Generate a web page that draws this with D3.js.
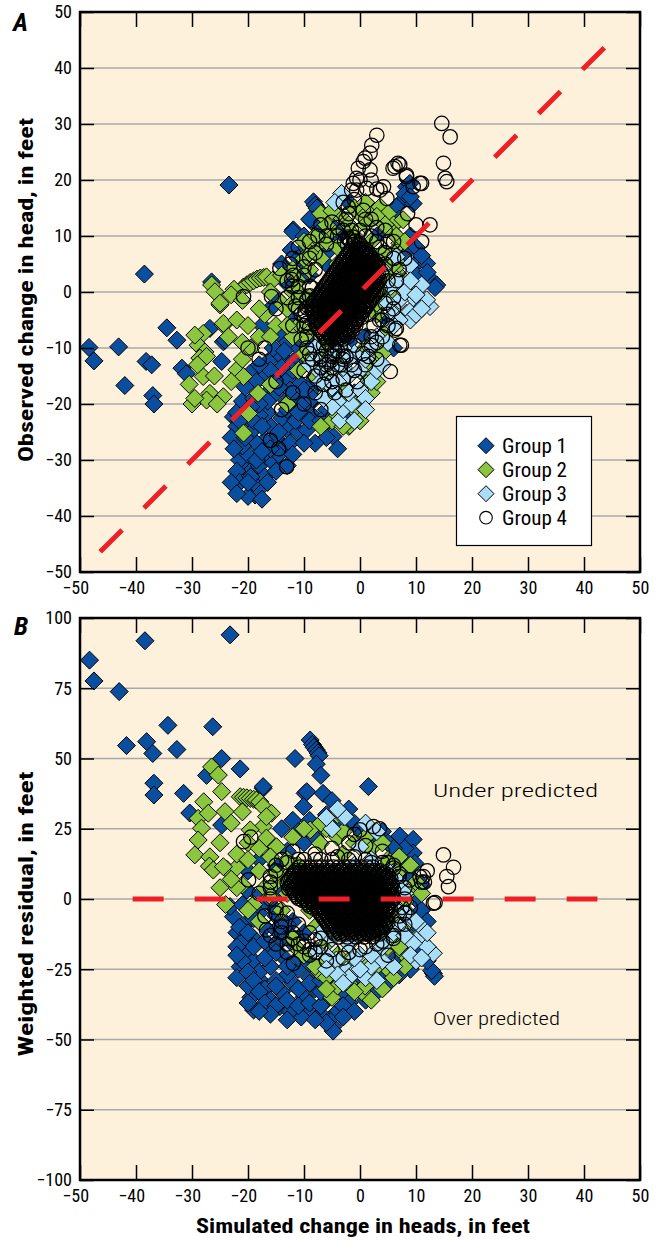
<!DOCTYPE html>
<html><head><meta charset="utf-8">
<script src="https://cdn.jsdelivr.net/npm/d3@7/dist/d3.min.js"></script>
<style>body{margin:0;background:#fff}</style>
</head><body>
<svg id="c" width="660" height="1241"></svg>
<script>
// ---------- ticks / labels ----------
const xTicks=[-50,-40,-30,-20,-10,0,10,20,30,40,50];
const yTicksA=[-50,-40,-30,-20,-10,0,10,20,30,40,50];
const yTicksB=[-100,-75,-50,-25,0,25,50,75,100];
const legendLabels=["Group 1","Group 2","Group 3","Group 4"];
const groupColors=["#0a4f9f","#8cc63f","#a9def8","none"];
const refLineA=[[-46.4,-46.4],[44.4,44.4]];
const refLineB=[[-40.6,0],[42.4,0]];

// ---------- Panel A: simulated vs observed ----------
const g1A=[[-23.4,19.1],[-38.5,3.2],[-48.4,-9.9],[-47.5,-12.3],[-43.1,-9.8],[-34.5,-6.4],[-32.7,-8.6],[-38.2,-12.4],[-37.2,-13],[-42,-16.7],[-37,-18.5],[-36.8,-20],[-31.8,-13.6],[-31,-14.6],[-26.5,1.8],[-26.8,-6.5],[-24.4,-8.9],[-24.7,-12.4],[-24.1,-8.6],[-22.6,-22.3],[-22,-21.5],[-19.6,-14.5],
[-8.3,16.1],[-8,15.5],[-7.7,15],[-8.6,12.6],[-11.9,11.1],[-7.1,11.1],[-3.6,10.2],[-10.1,7.5],[-12.3,7.5],[-14,5],[-13,1.5],[-15,-1],[-11,4],[-9,3],[-1.8,15.8],[-5,9],[-6,5],[-16,-3],[-17.5,-6],[-14,-8],[-12,-5],[-12,10.8],[-8.3,12.9],[-6,7],[-4,12],[-10,10],[-9,13],[-11,6],
[8.3,18.8],[7.7,16.4],[6.5,15.2],[9.5,15.8],[8.9,19.4],[8,17.5],[9,17],[10.7,5.7],[11.9,5.1],[13.1,1.8],[13.7,1.25],[13.4,0.8],[10,3],[9,8],[7.5,6],[5,-5],[6,-10],[4,-2],[2,4],[3,10],[1,-8],[9,10],[10,8],[11,6.5],[12,3.5],[7,13],
[-18.75,-36.25],[-18.2,-35.4],[-19,-34],[-20.8,-31.2],[-19.6,-32.1],[-21.5,-30],[-20,-29],[-18,-31],[-17,-33],[-16.7,-29.4],[-15.5,-30.5],[-13.7,-27.6],[-14.5,-29],[-15,-26],[-17,-26.5],[-18.5,-27],[-19.5,-25],[-21,-27.5],[-22,-32],[-16,-24],[-13,-24.5],[-11,-25],[-9.5,-24.6],[-10,-22],[-12,-22],[-14,-22.5],[-16.5,-21.5],[-18,-22],[-20,-22.5],[-21,-19.5],[-19,-19],[-17,-18.5],[-15,-18],[-13,-19.5],[-11,-19],[-9,-20],[-8,-22.5],[-6.5,-24],[-4.8,-25.8],[-6,-21],[-7,-18],[-9,-16.5],[-11,-16],[-13,-15.5],[-15,-14.5],[-17,-15],[-18.5,-16],[-16,-12],[-14,-11.5],[-12,-12.5],[-10,-13],[-8,-14],[-6,-15],[-4,-17],[-3,-20],[-2,-22],[-5,-19],[-11,-10],[-13,-9],[-9,-9],[-7,-11],[-20.5,-17],[-22,-24],[-23,-26],[-21.5,-34],[-20,-36.5],[-17.5,-37],[-19.5,-33],[-13,-31],[-1,-18],[1,-15],[0,-12],[-2,-9],
[-23,-34],[-22.5,-28],[-20.5,-26],[-19,-23],[-17.5,-24],[-16,-28],[-14.5,-25],[-12.5,-27],[-11.5,-23],[-10.5,-20],[-8.5,-19],[-7.5,-16],[-12.5,-17.5],[-14.5,-17],[-16.5,-19.5],[-18,-20],[-19.5,-20.5],[-21.5,-23],[-15,-32],[-16.5,-34],[-18.5,-30],[-17.5,-28.5],[-13,-21],[-11,-21.5],[-9,-23],[-7,-23],[-10,-17.5],[-12,-14],[-14,-13.5],[-16,-14],[-18,-13],[-15.5,-10],[-13.5,-10.5],[-6,-26],[-4,-28],[-8,-27],[-10,-27],[-12,-29],[-20,-34],[-22,-36]];

const g2A=[[-26.5,1.25],[-25.9,0.05],[-25,-2.3],[-24.4,-5.9],[-20.8,0.9],[-20.2,1.3],[-19.6,1.7],[-19,2],[-18.4,2.3],[-17.8,2.5],[-17.2,2.6],[-16.7,2.7],[-15.5,2.2],[-22.5,0.5],[-23,-0.5],[-21,-1.5],[-28,-7.4],[-28.9,-9.5],[-27.7,-10.7],[-28.6,-11.8],[-25,-2],[-24.4,-5.6],[-27.4,-11.5],[-28,-15.1],[-26.8,-18.1],[-27.4,-19.3],[-24.4,-18.7],[-22,-13.9],[-20.8,-15.1],[-19.9,-21.7],[-20.8,-25.2],[-18.2,-18.1],[-30,-20],[-29.5,-19],[-25.5,-20],[-23,-16],[-21,-12],[-19.5,-10],[-22,-5],[-23.5,-8],[-29,-13],[-26,-15],[-18,-8],[-17,-4],[-15,-6],[-14,-2],[-16,0],[-12,0],[-13,-3],[-10,-2],[-21,-9],[-29.5,-7.7],[-30.5,-16.5],
[-8,8],[-7,6],[-6,9],[-5,11],[-3,13],[-2,12],[0,14],[1,12],[2,15],[3.6,15.2],[4,13],[5,14],[6,12],[7.7,12.9],[5.7,10.8],[7.1,8.7],[6,7],[5,5],[7,3],[8.9,0.9],[6,0],[4.8,-6.8],[4,-9],[3,-11],[2.4,-13.3],[1.2,-16.3],[0,-18],[-1,-21],[-2,-24],[-3,-17],[-5,-14],[-7,-10],[-9,-7],[-11,-6],[-10,-8],[-8,-3],[-6,-9],[-4,-12],[-5,-23],[-7,-24],[2,-9],[3,-4],[4,2],[3,6],[2,9],[-1,10],[-4,5],[-9,4],[-11,2],[-7,0],[-1.8,-23.8],[-13,-20],[-16,-16.5],
[-10,6],[-9,7],[-8,10],[-6,12],[-4,14],[-1,15],[1,16],[3,13.5],[4.5,12],[6.5,10],[8,9],[7,5],[8,2],[5,3],[4,0],[3,-2],[5,-7],[4,-11],[2,-14],[1,-10],[0,-20],[-2,-19],[-4,-22],[-6,-18],[-8,-15],[-10,-11],[-12,-8],[-11,-14],[-9,-12],[-13,-6],[-12,4],[-10,9],[-11,0],[-6,-13],[-3,-24],[0,-23],[-7,14],[-5,14.5],[-4,8],[-9,-1],[-12,-2],[4,7],[6,5],[2,-18],[3,-16],[-14,3],[-16,-8],[-18,-3],[-20,-6]];

const g3A=[[-3.3,17.6],[-4.5,16],[10.1,-2.6],[12.5,-2.6],[8.3,-3.8],[11,1.25],[11.9,-1.4],[10.4,-2.6],[8.9,-3.5],[6.5,6.3],[8.9,4.8],[9.5,-1],[7,-1.5],[5.5,1],[4,4],[-3.6,-22.9],[-3,-21],[-1.5,-20],[-2,-18],[0,-17.5],[1,-19],[-4,-19.5],[-5,-17],[-6,-16],[-7.5,-14],[-8,-12],[-6,-12.5],[-4,-14],[-2,-15],[0,-14],[1,-12],[-1,-11],[-3,-10],[2,-16],[3,-14],[-5,-20.5],[6,-4],[5,-2],[7,2],[-1,5],[-2,7],[0,3],[-3,-13.5],[-6.5,-19],
[9,-5],[10,-4],[11,-3],[7,-5],[8,0],[9,2],[10,-0.5],[-8,-10],[-9,-13],[-7,-16],[-4,-16],[-2,-12],[2,-10],[-5,-11],[-1,-23],[1,-21],[4,-13],[3,-8],[5,-9],[6,-6]];

const g4A=[[3,28],[2.1,26.2],[1.8,24.8],[0.9,23.9],[0.6,23.3],[-0.3,22.1],[1.8,21.8],[-0.6,20.3],[-1.2,19.4],[-1.5,18.2],[-0.6,18.2],[-2.1,15.2],[1.2,18.5],[3.6,18.2],[4.2,18.8],[3,18.4],[6.8,23],[5.9,22.1],[8.3,20.6],[10.7,19.4],[9.5,18.8],[0.6,14.6],[4.8,16.7],[14.6,30.1],[16.1,27.7],[14.9,23],[15.2,20.3],[15.5,19.7],[6.25,22.4],[7.1,22.7],[8.3,20.9],[11,19.4],[12.5,12],[6.25,-6.8],[7.4,-9.5],[5.4,-14.2],[7.1,-9.5],[6.5,-6.5],[-14.3,4.2],[-11.9,3],[-12.2,2.2],[-15.8,-0.8],[-20.8,-0.8],[-13.1,-31.2],[-14.5,-28],[-16,-26.5],[-3,16],[-1,16.5],[0,20],[2,20],[-2.5,13],[-1.5,11],[1,10],[-4,11.5],[-6,10],[-7,12],[-9,9],[-12,6],[-13,-1],[-15,-3],[-17,-10],[-20,-10],[-18,-12],[-15,-16],[-12,-18],[-14,-21],[-8,-18],[-10,-20],[-7,-21],[-5,-16],[-3,-15.5],[-1,-14],[1,-13],[3,-12],[4,-8],[5,-4],[6,-1],[7,4],[8,6],[6,9],[4.5,11],[3,9],[2,13],[8.5,14],[10,12],[11,9],[-1,9],[0,8.5],[-2,9.5],[1,7],[3,5],[4,-5],[2,-8],[-10,-6],[-11,-3],[-9,1],[-8,4],
[-9.5,-10],[-8.5,-12],[-7,-13.5],[-5.5,-12.5],[-4,-10.5],[-2.5,-11.5],[-1,-9.5],[0.5,-8],[-6,-14.5],[-3.5,-13],[1.5,-4],[2.5,-6],[4,3],[4.5,7],[-10,3],[-11,-1],[-12,1],[-9,6],
[-9.5,-8],[-10.5,-4],[-11,1],[-10,4.5],[-8,7],[-6,8.5],[-4,10],[-3,11],[0,11],[2,10],[3.5,8],[4.5,5],[5,2],[4.5,-2],[3.5,-5],[2,-9.5],[0.5,-11],[-1.5,-13],[-3,-12],[-5,-13.5],[-7,-12],[-9,-11],[-10.5,-8.5],[-12,-6],[-11.5,-2.5],[-13,2],[-12.5,5],[-11,8],[-7.5,10],[-5,12.5],[-2,14],[1,13],[3,11.5],[5,9],[6,6],[6.5,2],[6,-3],[5,-6],[3,-9],[1.5,-11.5],[-0.5,-16],[-2.5,-17.5],[-4.5,-18],[-6.5,-16.5],[-8,-15],[-10,-14],
[-9.5,-1.4],[-9.5,-2.8],[-10,-4.2],[-9.5,-5.6],[-9,-6.3],[-9,-0.7],[3.5,2.1],[3.8,3.5],[-8.5,0.7],[-9.8,-3.5],[3.6,0.5],[3.2,5.5]];

// dense core of Group 4 (rows: [observed, [simulated...]])
const g4ACore=[
[7.7,[-1.5,-0.5,0.5]],
[7.0,[-2,-1,0,1]],
[6.3,[-2.5,-1.5,-0.5,0.5,1.5]],
[5.6,[-3,-2,-1,0,1,2]],
[4.9,[-3.5,-2.5,-1.5,-0.5,0.5,1.5,2.5]],
[4.2,[-4,-3,-2,-1,0,1,2,3]],
[3.5,[-4.5,-3.5,-2.5,-1.5,-0.5,0.5,1.5,2.5]],
[2.8,[-5,-4,-3,-2,-1,0,1,2,3]],
[2.1,[-5.5,-4.5,-3.5,-2.5,-1.5,-0.5,0.5,1.5,2.5]],
[1.4,[-6,-5,-4,-3,-2,-1,0,1,2,3]],
[0.7,[-6.5,-5.5,-4.5,-3.5,-2.5,-1.5,-0.5,0.5,1.5,2.5]],
[0,[-7,-6,-5,-4,-3,-2,-1,0,1,2,3]],
[-0.7,[-7.5,-6.5,-5.5,-4.5,-3.5,-2.5,-1.5,-0.5,0.5,1.5,2.5]],
[-1.4,[-8,-7,-6,-5,-4,-3,-2,-1,0,1,2]],
[-2.1,[-8.5,-7.5,-6.5,-5.5,-4.5,-3.5,-2.5,-1.5,-0.5,0.5,1.5]],
[-2.8,[-8,-7,-6,-5,-4,-3,-2,-1,0,1]],
[-3.5,[-8.5,-7.5,-6.5,-5.5,-4.5,-3.5,-2.5,-1.5,-0.5,0.5]],
[-4.2,[-8,-7,-6,-5,-4,-3,-2,-1,0]],
[-4.9,[-7.5,-6.5,-5.5,-4.5,-3.5,-2.5,-1.5,-0.5]],
[-5.6,[-8,-7,-6,-5,-4,-3,-2,-1]],
[-6.3,[-7.5,-6.5,-5.5,-4.5,-3.5,-2.5,-1.5]],
[-7.0,[-7,-6,-5,-4,-3,-2]],
[-7.7,[-6.5,-5.5,-4.5,-3.5,-2.5]],
[-8.4,[-6,-5,-4,-3]],
[-9.5,[-6.5,-5,-3.5]],
[-10.5,[-6,-4.5]],
[-11.5,[-7,-5,-3]],
[-13,[-6,-4]]];
const g4ACoreMid=[
[9.8,[-2.25,-1.25]],
[9.1,[-2.75,-1.75,-0.75]],
[8.4,[-2.25,-1.25,-0.25]],
[7.35,[-1.75,-0.75,0.25,1.25]],
[6.65,[-2.25,-1.25,-0.25,0.75,1.75]],
[5.95,[-2.75,-1.75,-0.75,0.25,1.25,2.25]],
[5.25,[-3.25,-2.25,-1.25,-0.25,0.75,1.75,2.75]],
[4.55,[-3.75,-2.75,-1.75,-0.75,0.25,1.25,2.25,3.25]],
[3.85,[-4.25,-3.25,-2.25,-1.25,-0.25,0.75,1.75,2.75]],
[3.15,[-4.75,-3.75,-2.75,-1.75,-0.75,0.25,1.25,2.25,3.25]],
[2.45,[-5.25,-4.25,-3.25,-2.25,-1.25,-0.25,0.75,1.75,2.75]],
[1.75,[-5.75,-4.75,-3.75,-2.75,-1.75,-0.75,0.25,1.25,2.25,3.25]],
[1.05,[-6.25,-5.25,-4.25,-3.25,-2.25,-1.25,-0.25,0.75,1.75,2.75]],
[0.35,[-6.75,-5.75,-4.75,-3.75,-2.75,-1.75,-0.75,0.25,1.25,2.25,3.25]],
[-0.35,[-7.25,-6.25,-5.25,-4.25,-3.25,-2.25,-1.25,-0.25,0.75,1.75,2.75]],
[-1.05,[-7.75,-6.75,-5.75,-4.75,-3.75,-2.75,-1.75,-0.75,0.25,1.25,2.25]],
[-1.75,[-8.25,-7.25,-6.25,-5.25,-4.25,-3.25,-2.25,-1.25,-0.25,0.75,1.75]],
[-2.45,[-8.25,-7.25,-6.25,-5.25,-4.25,-3.25,-2.25,-1.25,-0.25,0.75,1.25]],
[-3.15,[-8.25,-7.25,-6.25,-5.25,-4.25,-3.25,-2.25,-1.25,-0.25,0.75]],
[-3.85,[-8.25,-7.25,-6.25,-5.25,-4.25,-3.25,-2.25,-1.25,-0.25]],
[-4.55,[-7.75,-6.75,-5.75,-4.75,-3.75,-2.75,-1.75,-0.75,0.25]],
[-5.25,[-7.75,-6.75,-5.75,-4.75,-3.75,-2.75,-1.75,-0.75]],
[-5.95,[-7.75,-6.75,-5.75,-4.75,-3.75,-2.75,-1.75,-0.75]],
[-6.65,[-7.25,-6.25,-5.25,-4.25,-3.25,-2.25,-1.25]],
[-7.35,[-6.75,-5.75,-4.75,-3.75,-2.75]],
[-8.05,[-6.25,-5.25,-4.25,-3.25,-2.25]],
[-9,[-5.75,-4.25]]];

// ---------- Panel B: simulated vs weighted residual ----------
const g1B=[[-38.4,91.9],[-23.2,94],[-48.3,85],[-47.5,77.6],[-43,73.8],[-34.3,61.8],[-26.3,61.3],[-41.7,54.6],[-38.1,56],[-37,51.8],[-32.7,53.2],[-24.7,50],[-21.4,46.3],[-11.6,50],[-36.8,41.2],[-36.8,37],[-31.5,37.6],[-17.3,39.4],[-8.9,56.6],[-8.5,55],[-8.2,54],[-7.8,53],[-7.5,52],[-7.3,51],[-7.8,48],[-7,44],[-9.8,37.6],[-10.1,32.9],[-24.7,26.3],[-30.4,30.6],[-27.4,44],
[-17.3,40],[1.5,40],[-9.5,38.2],[-6.6,37.6],[-12,28],[-14,25],[-6,30],[-3,27],[0,25],[2,22],[4,24],[7.1,22.4],[9.5,21.2],[9.5,16.4],[9.8,12.7],[8,18],[6,15],[-16,20],[-18,14],[-20,10],[-15,12],[-13,17],[-10,20],[-8,22],[5,20],[6,18],[3,22],[-1,27],[-4,28],[-7,26],[-9,28],[-11,24],[-5,35],[-2,32],
[-19,-39.5],[-14.3,-38.3],[-4.8,-45.4],[-4.8,-47],[-8.9,-39.5],[-17.9,-28.8],[-21.4,-24.1],[-20.8,-19.4],[-22.6,-6.3],[-23.2,-2.7],[-20.2,3.2],[-22,-12],[-21,-15],[-19,-14],[-17,-10],[-15,-6],[-18,-5],[-20,-8],[-19,-22],[-18,-26],[-16,-24],[-14,-20],[-12,-16],[-10,-12],[-13,-12],[-16,-17],[-17,-32],[-19.5,-35],[-16,-36],[-14,-33],[-12,-30],[-10,-35],[-8,-32],[-6,-36],[-4,-40],[-5.5,-43],[-7,-41],[-10.5,-42],[-12.5,-40],[-9,-28],[-11,-25],[-13,-27],[-15,-29],[-7,-26],[-5,-30],[-3,-34],[-2,-37],[-1,-30],[-14,-14],[-12,-8],[-16,-2],[-18,1],[-14,3],[-20,-31],[-22,-28],[-21.5,-10],
[-21,-22],[-20,-26],[-19,-29],[-18,-33],[-17,-37],[-15,-38],[-13,-36],[-11,-38],[-9,-37],[-7,-38],[-6,-44],[-8,-43],[-13,-43],[-11,-32],[-9,-30],[-7,-33],[-5,-33],[-3,-38],[-15,-31],[-13,-24],[-11,-21],[-9,-23],[-7,-29],[-17,-21],[-15,-19],[-19,-17],[-17,-15],[-15,-11],[-13,-9],[-20,-12],[-22,-17],[-21,-2],[-19,-7],[-17,-1],[-22,-20],[-16,-41],[-18,-40],[-20,-37],
[13.1,-26.5],[13.3,-27.5],[12.8,-25.5],[10,-20],[8,-15],[9,-10],[6,-22],[4,-27],[2,-31],[0,-28],[11,5],[10,0],[8,8],[8,12],[9,8],[10,4],[11,-4],[12,-8],[11,-15],[10,-18],[12,-22],[9,-25],[7,-27],[5,-30],[3,-33],[1,-36],[-1,-40],[-3,-42]];

const g2B=[[-26.5,47],[-25.3,44.1],[-24.7,38.2],[-27.9,34.6],[-28.9,28.7],[-27.1,30.5],[-24.1,31.1],[-28.3,25.2],[-28.9,21],[-29.5,15.7],[-26.8,15],[-26.9,11.7],[-21.4,36.4],[-20.8,36.2],[-20.2,36],[-19.6,35.8],[-19,35.5],[-18.5,35.2],[-17.9,34.6],[-17.3,32.9],[-15.8,30.5],[-17.3,25.8],[-16.7,21.7],[-23.8,10.6],[-22,11.2],[-26.2,10.3],[-24.4,11.5],[-19.6,24.6],[-16.7,29.3],[-8.9,24.6],[-7.1,19.8],[-14.9,18.6],[-20,20],[-22,16],[-18,10],[-25,20],[-23,27],[-21,31],[-13,8],[-11,12],[-10,5],
[0.6,-33.5],[0.9,-31],[-7.1,-24.1],[-7.3,-26],[3.6,-21.7],[7.7,-19.3],[8.5,-21],[5,-25],[2,-27],[-2,-30],[-4,-20],[-6,-16],[-8,-10],[-9,-4],[-10,0],[4,-12],[6,-8],[8,-4],[9,3],[7,10],[5,14],[2,18],[-1,20],[-4,22],[-6,25],[-3,16],[3,8],[6,0],[-11,-18],[-5,-35],[-3,-26],[1,-24],[5,-17],[7,-12],[-13,2],[-15,6],[-17,4],[-19,-2],[-21,5],[-22,4],[-20,-4],[-18,-8],
[-12,22],[-10,25],[-7,27],[-4,30],[-13,14],[-15,9],[-16,1],[-14,-4],[-12,-14],[-10,-20],[-8,-24],[-6,-28],[-4,-31],[-1,-33],[2,-36],[4,-32],[6,-28],[8,-24],[10,-14],[9,-8],[7,-17],[3,-24],[-2,-22],[7,15],[9,12],[4,20],[1,22],[-3,24],[-16,15],[-18,18],[-20,14],[-23,7],[-25,4],[-24,-2],[10,6],[8,-1],[11,2],[-6,-32]];

const g3B=[[-3,29.3],[-2.7,29.3],[0,18.6],[8.3,-5.1],[9,-7],[10.7,-13.4],[13.1,-19.3],[12,-17],[-4.2,-21.7],[-2.4,-25.3],[-1.2,-26.5],[9.5,-15.8],[11,-10],[7,-10],[5,-14],[3,-18],[0,-20],[-2,-16],[-5,-14],[-7,-12],[1,-12],[4,-6],[6,-2],[8,2],[7,6],[5,10],[2,14],[-1,12],[3,24],[-5,25],[1,-28],[-6,-20],[10,-22],[-3,-8],[-8,-18],
[6,-24],[4,-22],[2,-24],[0,-25],[-2,-28],[-4,-27],[-6,-25],[9,-20],[11,-21],[12,-12],[10,-8],[6,-12],[-1,-21],[2,-20],[4,-17],[1,27],[-4,32],[-6,29],[8,-13],[-3,-30],[3,-29]];

const g4B=[[14.9,15.7],[16.7,11.3],[15.5,8],[15.8,4.4],[13.4,-1.3],[11.3,8],[11.5,6],[12,10],[-20.8,20.4],[-19.5,22],[-19.9,6.8],[-16.7,-11],[-16,-13],[-11.9,-22.9],[2.4,25.8],[3.5,25],[0,24.6],[-1,23],[8.9,6.8],[10.7,7.9],[11,6],[13.1,-1.5],[9,-3],[-14,14],[-12,17],[-10,14],[-8,16],[-5,18],[-2,20],[1,19],[4,17],[6,12],[-15,-16],[-13,-19],[-9,-20],[-6,-22],[-3,-21],[0,-18],[3,-16],[5,-20],[-18,2],[-16,8],[-14,-8],[-12,-12],[-10,-15],[-7,-17],[7,-6],[8,-9],[6,-14],[-15,-3],
[-13,-5],[-11,-9],[-9,-12],[-8,-14.5],[-15,12],[-7,14],[-4,15],[-1,15],[2,13],[5,13],[7,9],[7.5,-3],[-16,4],[-17,-6],
[-15,10],[-16,6],[-16,0],[-15,-5],[-14,-10],[-12,-14],[-10,-17],[-8,-19],[-5,-18],[-2,-19],[1,-17],[4,-15],[6,-13],[7,-9],[8,-5],[8,0],[8,4],[7,8],[6,11],[4,13],[1,14],[-2,14],[-5,14],[-8,14],[-11,14],[-13,13],[-14,-12],[-11,-16],[-7,-14],[-13,-16],[-9,-18]];

// dense core of Group 4 (rows: [residual, [simulated...]])
const g4BCore=[
[10,[-11.5,-10.5,-9.5,-8.5,-7.5,-6.5,-5.5,-4.5,-3.5,-2.5,-1.5,-0.5,0.5,1.5,2.5,3.5]],
[8.6,[-12,-11,-10,-9,-8,-7,-6,-5,-4,-3,-2,-1,0,1,2,3,4,5]],
[7.2,[-12.5,-11.5,-10.5,-9.5,-8.5,-7.5,-6.5,-5.5,-4.5,-3.5,-2.5,-1.5,-0.5,0.5,1.5,2.5,3.5,4.5,5.5]],
[5.8,[-13,-12,-11,-10,-9,-8,-7,-6,-5,-4,-3,-2,-1,0,1,2,3,4,5]],
[4.4,[-12.5,-11.5,-10.5,-9.5,-8.5,-7.5,-6.5,-5.5,-4.5,-3.5,-2.5,-1.5,-0.5,0.5,1.5,2.5,3.5,4.5,5.5]],
[3,[-12,-11,-10,-9,-8,-7,-6,-5,-4,-3,-2,-1,0,1,2,3,4,5,6]],
[1.6,[-11.5,-10.5,-9.5,-8.5,-7.5,-6.5,-5.5,-4.5,-3.5,-2.5,-1.5,-0.5,0.5,1.5,2.5,3.5,4.5,5.5]],
[0.2,[-11,-10,-9,-8,-7,-6,-5,-4,-3,-2,-1,0,1,2,3,4,5,6]],
[-1.2,[-9.5,-8.5,-7.5,-6.5,-5.5,-4.5,-3.5,-2.5,-1.5,-0.5,0.5,1.5,2.5,3.5,4.5,5.5]],
[-2.6,[-9,-8,-7,-6,-5,-4,-3,-2,-1,0,1,2,3,4,5]],
[-4,[-7.5,-6.5,-5.5,-4.5,-3.5,-2.5,-1.5,-0.5,0.5,1.5,2.5,3.5,4.5,5.5]],
[-5.4,[-7,-6,-5,-4,-3,-2,-1,0,1,2,3,4,5]],
[-6.8,[-6.5,-5.5,-4.5,-3.5,-2.5,-1.5,-0.5,0.5,1.5,2.5,3.5,4.5]],
[-8.2,[-6,-5,-4,-3,-2,-1,0,1,2,3,4,5]],
[-9.6,[-5.5,-4.5,-3.5,-2.5,-1.5,-0.5,0.5,1.5,2.5,3.5,4.5]],
[-11,[-5,-4,-3,-2,-1,0,1,2,3,4]],
[-12.4,[-4.5,-3.5,-2.5,-1.5,-0.5,0.5,1.5,2.5,3.5]]];
const g4BCoreMid=[
[11.4,[-10.75,-9.75,-8.75,-7.75,-6.75,-5.75,-4.75,-3.75,-2.75,-1.75,-0.75,0.25,1.25,2.25]],
[9.3,[-11.75,-10.75,-9.75,-8.75,-7.75,-6.75,-5.75,-4.75,-3.75,-2.75,-1.75,-0.75,0.25,1.25,2.25,3.25,4.25]],
[7.9,[-12.25,-11.25,-10.25,-9.25,-8.25,-7.25,-6.25,-5.25,-4.25,-3.25,-2.25,-1.25,-0.25,0.75,1.75,2.75,3.75,4.75]],
[6.5,[-12.75,-11.75,-10.75,-9.75,-8.75,-7.75,-6.75,-5.75,-4.75,-3.75,-2.75,-1.75,-0.75,0.25,1.25,2.25,3.25,4.25,5.25]],
[5.1,[-12.25,-11.25,-10.25,-9.25,-8.25,-7.25,-6.25,-5.25,-4.25,-3.25,-2.25,-1.25,-0.25,0.75,1.75,2.75,3.75,4.75,5.75]],
[3.7,[-12.75,-11.75,-10.75,-9.75,-8.75,-7.75,-6.75,-5.75,-4.75,-3.75,-2.75,-1.75,-0.75,0.25,1.25,2.25,3.25,4.25,5.25]],
[2.3,[-11.75,-10.75,-9.75,-8.75,-7.75,-6.75,-5.75,-4.75,-3.75,-2.75,-1.75,-0.75,0.25,1.25,2.25,3.25,4.25,5.25]],
[0.9,[-11.25,-10.25,-9.25,-8.25,-7.25,-6.25,-5.25,-4.25,-3.25,-2.25,-1.25,-0.25,0.75,1.75,2.75,3.75,4.75,5.75]],
[-0.5,[-10.25,-9.25,-8.25,-7.25,-6.25,-5.25,-4.25,-3.25,-2.25,-1.25,-0.25,0.75,1.75,2.75,3.75,4.75,5.75]],
[-1.9,[-9.25,-8.25,-7.25,-6.25,-5.25,-4.25,-3.25,-2.25,-1.25,-0.25,0.75,1.75,2.75,3.75,4.75]],
[-3.3,[-8.25,-7.25,-6.25,-5.25,-4.25,-3.25,-2.25,-1.25,-0.25,0.75,1.75,2.75,3.75,4.75]],
[-4.7,[-7.25,-6.25,-5.25,-4.25,-3.25,-2.25,-1.25,-0.25,0.75,1.75,2.75,3.75,4.75]],
[-6.1,[-6.75,-5.75,-4.75,-3.75,-2.75,-1.75,-0.75,0.25,1.25,2.25,3.25,4.25]],
[-7.5,[-6.25,-5.25,-4.25,-3.25,-2.25,-1.25,-0.25,0.75,1.75,2.75,3.75,4.75]],
[-8.9,[-5.75,-4.75,-3.75,-2.75,-1.75,-0.75,0.25,1.25,2.25,3.25,4.25]],
[-10.3,[-5.25,-4.25,-3.25,-2.25,-1.25,-0.25,0.75,1.75,2.75,3.75]],
[-11.7,[-4.75,-3.75,-2.75,-1.75,-0.75,0.25,1.25,2.25,3.25]],
[-13.5,[-3.75,-2.25,-0.75,0.75,2.25]]];

// ---------- drawing ----------
const FONT="'Liberation Sans Narrow','Arial Narrow','Roboto Condensed','Liberation Sans',sans-serif";
const svg=d3.select("#c");
const L=80,R=640;
const x=d3.scaleLinear([-50,50],[L,R]);
const yA=d3.scaleLinear([-50,50],[572,12]);
const yB=d3.scaleLinear([-100,100],[1180,618]);
const fmt=v=>v<0?"\u2212"+Math.abs(v):String(v);
const diamond=s=>`M0,${-s}L${s},0L0,${s}L${-s},0Z`;
const expand=rows=>rows.flatMap(([yv,xs])=>xs.map(xv=>[xv,yv]));

function panel(id,y,yTicks,groups,cores,ref){
  const [y0,y1]=y.range();
  const top=y1,bot=y0;
  const g=svg.append("g");
  g.append("rect").attr("x",L).attr("y",top).attr("width",R-L).attr("height",bot-top).attr("fill","#fdf1db");
  g.append("g").selectAll("line").data(yTicks.slice(1,-1)).join("line")
    .attr("x1",L).attr("x2",R).attr("y1",d=>y(d)).attr("y2",d=>y(d))
    .attr("stroke","#a9a9a9").attr("stroke-width",1.5);
  const clip=svg.append("clipPath").attr("id","clip"+id);
  clip.append("rect").attr("x",L).attr("y",top).attr("width",R-L).attr("height",bot-top);
  const pts=g.append("g").attr("clip-path",`url(#clip${id})`);
  groups.slice(0,3).forEach((arr,i)=>{
    pts.append("g").selectAll("path").data(arr).join("path")
      .attr("d",diamond(9)).attr("transform",d=>`translate(${x(d[0])},${y(d[1])})`)
      .attr("fill",groupColors[i]).attr("stroke","#000").attr("stroke-width",1);
  });
  const circ=groups[3].concat(...cores.map(expand));
  pts.append("g").selectAll("circle").data(circ).join("circle")
    .attr("cx",d=>x(d[0])).attr("cy",d=>y(d[1])).attr("r",7.2)
    .attr("fill","none").attr("stroke","#000").attr("stroke-width",1.25);
  pts.append("line").attr("x1",x(ref[0][0])).attr("y1",y(ref[0][1]))
    .attr("x2",x(ref[1][0])).attr("y2",y(ref[1][1]))
    .attr("stroke","#ee2027").attr("stroke-width",5).attr("stroke-dasharray","31,31");
  const ax=g.append("g").attr("font-family",FONT);
  ax.append("g").attr("transform",`translate(${L},0)`)
    .call(d3.axisLeft(y).tickValues(yTicks).tickSizeInner(-14).tickSizeOuter(0).tickPadding(8).tickFormat(fmt));
  ax.append("g").attr("transform",`translate(${R},0)`)
    .call(d3.axisRight(y).tickValues(yTicks).tickSizeInner(-14).tickSizeOuter(0).tickFormat(""));
  const bottom=ax.append("g").attr("transform",`translate(0,${bot})`)
    .call(d3.axisBottom(x).tickValues(xTicks).tickSizeInner(-15).tickSizeOuter(0).tickPadding(9).tickFormat(fmt));
  ax.append("g").attr("transform",`translate(0,${top})`)
    .call(d3.axisTop(x).tickValues(xTicks).tickSizeInner(-15).tickSizeOuter(0).tickFormat(""));
  ax.selectAll(".domain").remove();
  ax.selectAll(".tick line").attr("stroke","#000").attr("stroke-width",1.5);
  ax.selectAll("text").attr("font-size",18).attr("fill","#000").attr("font-family",FONT);
  bottom.selectAll("text").attr("dx",d=>d<0?"-0.27em":0);
  g.append("rect").attr("x",L).attr("y",top).attr("width",R-L).attr("height",bot-top)
    .attr("fill","none").attr("stroke","#000").attr("stroke-width",2.5);
}

panel("A",yA,yTicksA,[g1A,g2A,g3A,g4A],[g4ACore,g4ACoreMid],refLineA);
panel("B",yB,yTicksB,[g1B,g2B,g3B,g4B],[g4BCore,g4BCoreMid],refLineB);

// legend
const lg=svg.append("g");
lg.append("rect").attr("x",456.5).attr("y",416.5).attr("width",135).attr("height",129)
  .attr("fill","#fff").attr("stroke","#000").attr("stroke-width",1.2);
legendLabels.forEach((lab,i)=>{
  const cy=445.7+i*24;
  if(i<3) lg.append("path").attr("d",diamond(8)).attr("transform",`translate(486,${cy})`)
    .attr("fill",groupColors[i]).attr("stroke","#000").attr("stroke-width",1);
  else lg.append("circle").attr("cx",486).attr("cy",cy).attr("r",6.3).attr("fill","#fff").attr("stroke","#000").attr("stroke-width",1.1);
  lg.append("text").attr("x",502).attr("y",cy+7).attr("font-family",FONT).attr("font-size",20)
    .attr("textLength",65).attr("lengthAdjust","spacingAndGlyphs").text(lab);
});

const T=(t,xp,yp,opt={})=>{
  const e=svg.append("text").attr("x",xp).attr("y",yp).attr("font-family",FONT)
    .attr("font-size",opt.size||20).attr("font-weight",opt.weight||"normal")
    .attr("font-style",opt.style||"normal").attr("text-anchor",opt.anchor||"start").text(t);
  if(opt.len) e.attr("textLength",opt.len).attr("lengthAdjust","spacingAndGlyphs");
  if(opt.rot) e.attr("transform",`rotate(-90,${xp},${yp})`);
  return e;
};
T("A",13,31,{size:26,weight:"bold",style:"italic"});
T("B",14,635,{size:26,weight:"bold",style:"italic"});
T("Under predicted",433,797,{size:19,weight:300,len:165});
T("Over predicted",433,1025,{size:19,weight:300,len:127});
T("Observed change in head, in feet",33,290,{size:20,weight:"bold",anchor:"middle",len:344,rot:true});
T("Weighted residual, in feet",33,914,{size:20,weight:"bold",anchor:"middle",len:285,rot:true});
T("Simulated change in heads, in feet",363,1233,{size:20,weight:"bold",anchor:"middle",len:334});
</script>
</body></html>
